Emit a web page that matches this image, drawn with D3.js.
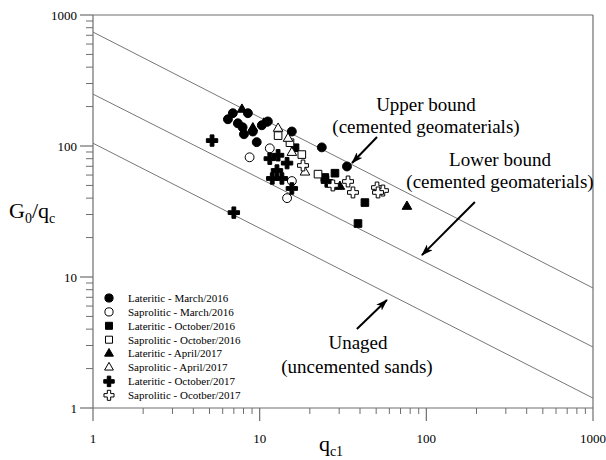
<!DOCTYPE html>
<html>
<head>
<meta charset="utf-8">
<script src="https://cdn.jsdelivr.net/npm/d3@7"></script>
<style>
  body { margin: 0; background: #fff; }
  text { font-family: "Liberation Serif", "Times New Roman", serif; fill: #000; }
</style>
</head>
<body>
<svg id="chart" width="606" height="460"></svg>
<script>
// Normalised cone resistance qc1 vs small-strain stiffness ratio G0/qc
const latMar2016 = [[6.45,160],[6.9,178],[7.4,149],[7.9,139],[8.05,123],[8.5,178],[9.1,129],[9.6,107],[10.3,144],[11.2,154],[15.6,129],[23.6,97.6],[33.4,69.8]];
const sapMar2016 = [[8.7,82],[11.5,96],[15.6,54],[14.6,40]];
const latOct2016 = [[16.3,97],[24.6,57.5],[28.3,62],[42.8,37],[38.9,25.6]];
const sapOct2016 = [[12.9,120],[15.2,106],[17.9,86],[22.4,61]];
const latApr2017 = [[7.83,190],[9.1,137],[10.6,149],[30.3,49],[76.5,34.5]];
const sapApr2017 = [[12.9,136],[14.8,114],[15.6,89],[18.7,63]];
const latOct2017 = [[5.18,110],[7.0,31],[11.5,80],[12.9,85],[14.6,74],[12.7,65],[11.9,56.5],[13.6,56.5],[15.6,47.4],[25.3,53.6]];
const sapOct2017 = [[18.2,71],[27.5,50],[33.9,53.6],[36.3,44.2],[50.6,48.2],[54.9,45.7],[51.3,44.2]];

const seriesLabels = ["Lateritic - March/2016","Saprolitic - March/2016","Lateritic - October/2016","Saprolitic - October/2016",
                      "Lateritic - April/2017","Saprolitic - April/2017","Lateritic - October/2017","Saprolitic - Ocotber/2017"];

// Bound lines: G0/qc at qc1 = 1 and qc1 = 1000
const boundStartQc = [1, 1, 1];
const boundEndQc = [1000, 1000, 1000];
const boundStartG = [741, 249, 105];
const boundEndG = [8.24, 2.92, 1.19];

const tickValues = [1, 10, 100, 1000];
const tickLabels = ["1", "10", "100", "1000"];

const svg = d3.select("#chart");
const mLeft = 93, mRight = 593, mTop = 15, mBottom = 408;
const x = d3.scaleLog().domain([1, 1000]).range([mLeft, mRight]);
const y = d3.scaleLog().domain([1, 1000]).range([mBottom, mTop]);

const axisColor = "#6e6e6e";
const minorTicks = [];
for (let d = 1; d < 1000; d *= 10) for (let k = 2; k <= 9; k++) minorTicks.push(d * k);

// Frame (top and right edges)
svg.append("line").attr("x1", mLeft).attr("x2", mRight).attr("y1", mTop).attr("y2", mTop)
  .attr("stroke", axisColor).attr("stroke-width", 1.2);
svg.append("line").attr("x1", mRight).attr("x2", mRight).attr("y1", mTop).attr("y2", mBottom)
  .attr("stroke", axisColor).attr("stroke-width", 1.2);

// Left axis with outward ticks
const yAxis = svg.append("g").attr("transform", `translate(${mLeft},0)`);
yAxis.append("line").attr("x1", 0).attr("x2", 0).attr("y1", mTop).attr("y2", mBottom)
  .attr("stroke", axisColor).attr("stroke-width", 1.2);
yAxis.selectAll(".ymin").data(minorTicks).join("line")
  .attr("x1", -7).attr("x2", 0).attr("y1", d => y(d)).attr("y2", d => y(d))
  .attr("stroke", axisColor).attr("stroke-width", 1);
yAxis.selectAll(".ymaj").data(tickValues).join("line")
  .attr("x1", -13).attr("x2", 0).attr("y1", d => y(d)).attr("y2", d => y(d))
  .attr("stroke", axisColor).attr("stroke-width", 1.2);
yAxis.selectAll(".ylab").data(tickValues).join("text")
  .attr("x", -16).attr("y", d => y(d)).attr("dy", "0.35em")
  .attr("text-anchor", "end").attr("font-size", 13)
  .text((d, i) => tickLabels[i]);

// Bottom axis with outward ticks
const xAxis = svg.append("g").attr("transform", `translate(0,${mBottom})`);
xAxis.append("line").attr("x1", mLeft).attr("x2", mRight).attr("y1", 0).attr("y2", 0)
  .attr("stroke", axisColor).attr("stroke-width", 1.2);
xAxis.selectAll(".xmin").data(minorTicks).join("line")
  .attr("x1", d => x(d)).attr("x2", d => x(d)).attr("y1", 0).attr("y2", 6)
  .attr("stroke", axisColor).attr("stroke-width", 1);
xAxis.selectAll(".xmaj").data(tickValues).join("line")
  .attr("x1", d => x(d)).attr("x2", d => x(d)).attr("y1", 0).attr("y2", 13)
  .attr("stroke", axisColor).attr("stroke-width", 1.2);
xAxis.selectAll(".xlab").data(tickValues).join("text")
  .attr("x", d => x(d)).attr("y", 35)
  .attr("text-anchor", "middle").attr("font-size", 13)
  .text((d, i) => tickLabels[i]);

// Axis titles
const yt = svg.append("text").attr("x", 9).attr("y", 218).attr("font-size", 22);
yt.append("tspan").text("G");
yt.append("tspan").attr("font-size", 14).attr("dy", 5).text("0");
yt.append("tspan").attr("dy", -5).text("/q");
yt.append("tspan").attr("font-size", 14).attr("dy", 5).text("c");

const xt = svg.append("text").attr("x", 331).attr("y", 451).attr("font-size", 22).attr("text-anchor", "middle");
xt.append("tspan").text("q");
xt.append("tspan").attr("font-size", 14).attr("dy", 5).text("c1");

// Bound lines
const plot = svg.append("g");
boundStartG.forEach((g0, i) => {
  plot.append("line")
    .attr("x1", x(boundStartQc[i])).attr("y1", y(g0))
    .attr("x2", x(boundEndQc[i])).attr("y2", y(boundEndG[i]))
    .attr("stroke", "#777").attr("stroke-width", 1);
});

// Marker shapes
const shapes = [
  { type: d3.symbolCircle, size: 62, fill: "#000" },
  { type: d3.symbolCircle, size: 62, fill: "#fff" },
  { type: d3.symbolSquare, size: 58, fill: "#000" },
  { type: d3.symbolSquare, size: 58, fill: "#fff" },
  { type: d3.symbolTriangle, size: 40, fill: "#000" },
  { type: d3.symbolTriangle, size: 40, fill: "#fff" },
  { type: d3.symbolCross, size: 72, fill: "#000" },
  { type: d3.symbolCross, size: 66, fill: "#fff" }
];
const seriesData = [latMar2016, sapMar2016, latOct2016, sapOct2016, latApr2017, sapApr2017, latOct2017, sapOct2017];

function drawSymbol(g, s) {
  g.append("path")
    .attr("d", d3.symbol().type(s.type).size(s.size)())
    .attr("fill", s.fill).attr("stroke", "#000").attr("stroke-width", 1);
}

seriesData.forEach((data, i) => {
  data.forEach(p => {
    const g = plot.append("g").attr("transform", `translate(${x(p[0])},${y(p[1])})`);
    drawSymbol(g, shapes[i]);
  });
});

// Legend
const legend = svg.append("g");
seriesLabels.forEach((label, i) => {
  const yy = 298 + i * 13.9;
  const g = legend.append("g").attr("transform", `translate(109,${yy})`);
  drawSymbol(g, { type: shapes[i].type, size: shapes[i].size * 0.85, fill: shapes[i].fill });
  legend.append("text").attr("x", 128).attr("y", yy).attr("dy", "0.35em")
    .attr("font-size", 11).text(label);
});

// Annotations
svg.append("defs").append("marker")
  .attr("id", "head").attr("viewBox", "0 0 12 8").attr("refX", 11).attr("refY", 4)
  .attr("markerWidth", 12).attr("markerHeight", 8).attr("markerUnits", "userSpaceOnUse")
  .attr("orient", "auto")
  .append("path").attr("d", "M0,0 L12,4 L0,8 L3,4 Z").attr("fill", "#000");

const arrows = [
  { from: [50.6, 117], to: [35.8, 74.2] },
  { from: [195.6, 37.4], to: [94.1, 14.7] },
  { from: [38.3, 4.01], to: [58.0, 6.67] }
];
arrows.forEach(a => {
  svg.append("line")
    .attr("x1", x(a.from[0])).attr("y1", y(a.from[1]))
    .attr("x2", x(a.to[0])).attr("y2", y(a.to[1]))
    .attr("stroke", "#000").attr("stroke-width", 2)
    .attr("marker-end", "url(#head)");
});

const notes = [
  { x: 426, y: 111, t: "Upper bound" },
  { x: 426, y: 133, t: "(cemented geomaterials)" },
  { x: 500, y: 166, t: "Lower bound" },
  { x: 500, y: 188, t: "(cemented geomaterials)" },
  { x: 358, y: 349, t: "Unaged" },
  { x: 357, y: 373, t: "(uncemented sands)" }
];
notes.forEach(n => {
  svg.append("text").attr("x", n.x).attr("y", n.y).attr("text-anchor", "middle")
    .attr("font-size", 19).text(n.t);
});
</script>
</body>
</html>
